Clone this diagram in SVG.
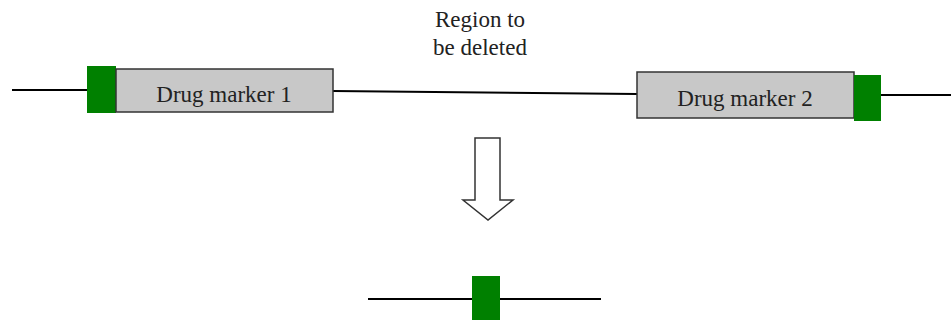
<svg xmlns="http://www.w3.org/2000/svg" width="951" height="320" viewBox="0 0 951 320">
<style>
.ln{stroke:#000;stroke-width:2.2;fill:none}
.grn{fill:#008000}
.box{fill:#c8c8c8;stroke:#333;stroke-width:1.5}
text{font-family:'Liberation Serif','DejaVu Serif',serif;font-size:23px;fill:#222;text-anchor:middle}
</style>
<rect width="951" height="320" fill="#fff"/>
<g id="connectors">
<line class="ln" x1="12" y1="90" x2="88" y2="90"/>
<line class="ln" x1="333" y1="91" x2="637" y2="94"/>
<line class="ln" x1="881" y1="95" x2="951" y2="95"/>
<line class="ln" x1="368" y1="299" x2="601" y2="299"/>
</g>
<g id="label">
<text x="480" y="27">Region to</text>
<text x="480" y="55">be deleted</text>
</g>
<g id="green1"><rect class="grn" x="87" y="66" width="29" height="47"/></g>
<g id="marker1">
<rect class="box" x="116" y="69" width="217" height="43"/>
<text x="224" y="102">Drug marker 1</text>
</g>
<g id="marker2">
<rect class="box" x="637" y="72" width="217" height="46"/>
<text x="745" y="106">Drug marker 2</text>
</g>
<g id="green2"><rect class="grn" x="854" y="75" width="27" height="46"/></g>
<g id="arrow">
<path d="M475,138 H500 V200 H513 L488,220 L463,200 H475 Z" fill="#fff" stroke="#333" stroke-width="1.5" stroke-linejoin="miter"/>
</g>
<g id="green3"><rect class="grn" x="472" y="276" width="28" height="44"/></g>
</svg>
